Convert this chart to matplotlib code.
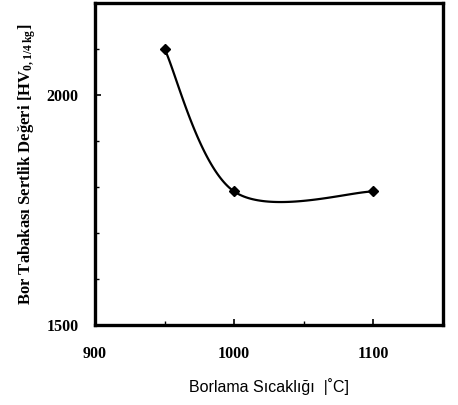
import numpy as np
from matplotlib import pyplot as plt

# sicaklik [C] ve sertlik [HV]
sicaklik = [950, 1000, 1100]
sertlik = [2100, 1790, 1790]

x_ticks = [900, 1000, 1100]
y_ticks = [1500, 2000]

plt.rcParams["mathtext.fontset"] = "custom"
plt.rcParams["mathtext.rm"] = "Liberation Serif:bold"
plt.rcParams["mathtext.default"] = "rm"


def catmull_rom(xs, ys, n=60):
    # excel benzeri yumusatilmis cizgi (parametrik bezier)
    xr = 250.0
    yr = 700.0
    p = np.column_stack([np.asarray(xs, float) / xr, np.asarray(ys, float) / yr])
    pts = np.vstack([p[0], p, p[-1]])
    out = []
    for i in range(1, len(pts) - 2):
        p0, p1, p2, p3 = pts[i - 1], pts[i], pts[i + 1], pts[i + 2]
        c1 = p1 + (p2 - p0) / 6.0
        c2 = p2 - (p3 - p1) / 6.0
        t = np.linspace(0, 1, n)[:, None]
        b = ((1 - t) ** 3) * p1 + 3 * ((1 - t) ** 2) * t * c1 + 3 * (1 - t) * t ** 2 * c2 + t ** 3 * p2
        out.append(b)
    out = np.vstack(out)
    return out[:, 0] * xr, out[:, 1] * yr


fig = plt.figure(figsize=(4.58, 4.05), dpi=100)
ax = fig.add_axes([0.2074, 0.198, 0.7596, 0.7946])

cx, cy = catmull_rom(sicaklik, sertlik)
ax.plot(cx, cy, color="black", lw=1.6)
ax.plot(sicaklik, sertlik, "D", color="black", ms=5.5)

ax.set_xlim(900, 1150)
ax.set_ylim(1500, 2200)
ax.set_xticks(x_ticks)
ax.set_yticks(y_ticks)
ax.set_xticks(np.arange(900, 1151, 50), minor=True)
ax.set_yticks(np.arange(1500, 2201, 100), minor=True)

serif = {"family": "Liberation Serif", "weight": "bold", "size": 11.5}
ax.set_xticklabels([str(v) for v in x_ticks], fontdict=serif)
ax.set_yticklabels([str(v) for v in y_ticks], fontdict=serif)
ax.tick_params(axis="x", which="major", direction="in", length=4, width=1.2, pad=15)
ax.tick_params(axis="y", which="major", direction="in", length=4, width=1.2, pad=12)
ax.tick_params(which="minor", direction="in", length=3, width=1)

for s in ax.spines.values():
    s.set_linewidth(2.4)

ax.set_ylabel("Bor Tabakası Sertlik Değeri [HV$_{0,1/4\\,kg}$]",
              fontfamily="Liberation Serif", fontweight="bold", fontsize=12, labelpad=6)
ax.set_xlabel("Borlama Sıcaklığı  |˚C]", fontfamily="Liberation Sans",
              fontsize=11.5, labelpad=12)

fig.savefig("out.png", dpi=100)
